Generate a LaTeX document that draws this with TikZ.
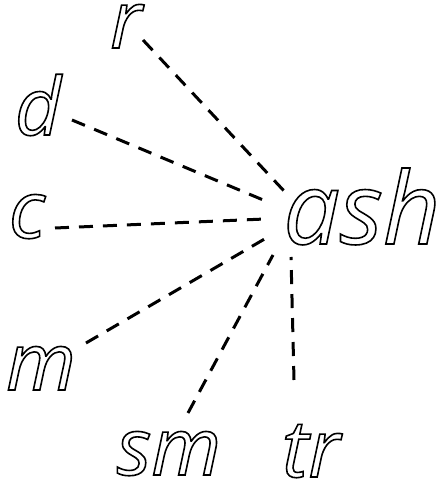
\documentclass[tikz,border=0pt]{standalone}
\usepackage{fontspec}
\setmainfont{Open Sans}
\newcommand{\outlinetext}[1]{\special{pdf:literal direct 1 Tr 1.6 w}#1\special{pdf:literal direct 0 Tr}}
\begin{document}
\begin{tikzpicture}[x=1pt,y=1pt,
  word/.style={anchor=base,inner sep=0pt,text depth=0pt,font=\fontsize{80}{80}\selectfont\itshape},
  bigword/.style={word,font=\fontsize{100}{100}\selectfont\itshape},
  link/.style={line width=3pt,dash pattern=on 14pt off 10pt}]
\useasboundingbox (0,0) rectangle (447,485);
\node[word,text height=42pt] (r) at (126,437) {\outlinetext{r}};
\node[word] (d) at (38,350) {\outlinetext{d}};
\node[word] (c) at (27,247) {\outlinetext{c}};
\node[bigword] (ash) at (362,241) {\outlinetext{ash}};
\node[word] (m) at (41,95) {\outlinetext{m}};
\node[word] (sm) at (169,10) {\outlinetext{sm}};
\node[word] (tr) at (311,8) {\outlinetext{tr}};
\coordinate (r1) at (143,445); \coordinate (r2) at (285,293);
\coordinate (d1) at (72,365); \coordinate (d2) at (268,283);
\coordinate (c1) at (55,257); \coordinate (c2) at (265,266);
\coordinate (m1) at (86,142); \coordinate (m2) at (268,248);
\coordinate (s1) at (188,72); \coordinate (s2) at (273,230);
\coordinate (t1) at (294,105); \coordinate (t2) at (291,228);
\draw[link] (r1) -- (r2);
\draw[link] (d1) -- (d2);
\draw[link] (c1) -- (c2);
\draw[link] (m1) -- (m2);
\draw[link] (s1) -- (s2);
\draw[link] (t1) -- (t2);
\end{tikzpicture}
\end{document}
